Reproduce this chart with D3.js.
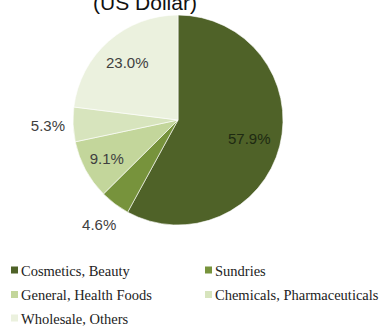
<!DOCTYPE html>
<html><head><meta charset="utf-8">
<script src="https://cdn.jsdelivr.net/npm/d3@7"></script>
<style>body{margin:0;background:#fff;}svg{display:block;}</style>
</head><body>
<script>
const title = "(US Dollar)";
const categories = ["Cosmetics, Beauty","Sundries","General, Health Foods","Chemicals, Pharmaceuticals","Wholesale, Others"];
const values = [57.9, 4.6, 9.1, 5.3, 23.0];
const labels = ["57.9%","4.6%","9.1%","5.3%","23.0%"];
const colors = ["#4F6228","#77933C","#C3D69B","#D7E4BD","#EBF1DE"];
const labelColors = ["#1e2a12","#404040","#404040","#404040","#404040"];
const labelRadius = [0.70, 1.25, 0.77, 1.24, 0.73];

const W = 386, H = 327;
const svg = d3.select("body").append("svg").attr("width", W).attr("height", H);

svg.append("text").attr("x", 145).attr("y", 10).attr("text-anchor","middle")
  .attr("font-family","Liberation Sans, Arial, sans-serif").attr("font-size",21)
  .attr("fill","#111").text(title);

const cx = 178, cy = 120, R = 105;
const pie = d3.pie().sort(null).value(d => d);
const arcs = pie(values);
const arc = d3.arc().innerRadius(0).outerRadius(R);
const g = svg.append("g").attr("transform", `translate(${cx},${cy})`);
g.selectAll("path").data(arcs).join("path")
  .attr("d", arc).attr("fill", (d,i) => colors[i])
  .attr("stroke","#fff").attr("stroke-width",0.6);

g.selectAll("text.lbl").data(arcs).join("text").attr("class","lbl")
  .attr("transform", (d,i) => {
    const a = d3.arc().innerRadius(R*labelRadius[i]).outerRadius(R*labelRadius[i]);
    const c = a.centroid(d);
    return `translate(${c[0]},${c[1]})`;
  })
  .attr("text-anchor","middle").attr("dy","0.36em")
  .attr("font-family","Liberation Sans, Arial, sans-serif").attr("font-size",15)
  .attr("fill",(d,i) => labelColors[i]).text((d,i) => labels[i]);

// legend
const legX = [11, 205], legY = [270.5, 295, 318.5];
const lg = svg.append("g");
categories.forEach((c,i) => {
  const x = legX[i % 2], y = legY[Math.floor(i/2)];
  lg.append("rect").attr("x", x).attr("y", y-4).attr("width",7).attr("height",7).attr("fill",colors[i]);
  lg.append("text").attr("x", x+10).attr("y", y).attr("dy","0.35em")
    .attr("font-family","Liberation Serif, Times New Roman, serif").attr("font-size",14.5)
    .attr("fill","#222").text(c);
});
</script>
</body></html>
